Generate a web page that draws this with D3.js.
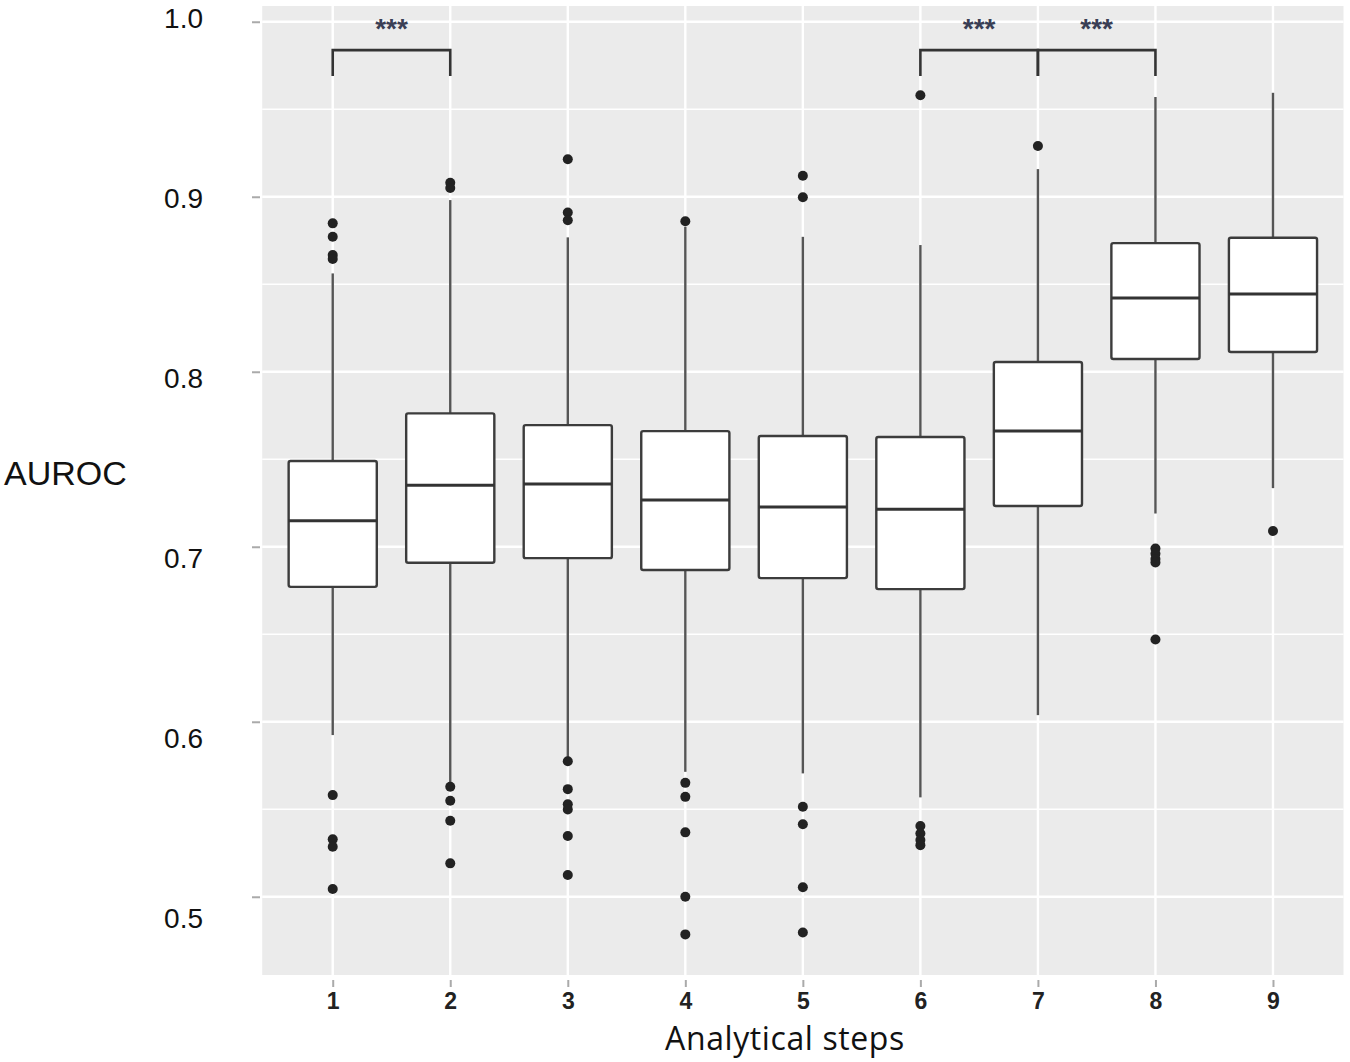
<!DOCTYPE html>
<html>
<head>
<meta charset="utf-8">
<script src="https://cdn.jsdelivr.net/npm/d3@7"></script>
<style>
  body { margin: 0; background: #fff; }
  svg { display: block; }
</style>
</head>
<body>
<div id="chart"></div>
<script>
// AUROC per analytical step
const steps = [1, 2, 3, 4, 5, 6, 7, 8, 9];
const whiskLo = [0.5924, 0.5638, 0.5781, 0.5714, 0.5705, 0.5568, 0.6038, 0.719, 0.7335];
const q1 = [0.6771, 0.6909, 0.6935, 0.6867, 0.6821, 0.6758, 0.7233, 0.8073, 0.8113];
const median = [0.7149, 0.7351, 0.7358, 0.7267, 0.7227, 0.7215, 0.7661, 0.8421, 0.8444];
const q3 = [0.749, 0.7762, 0.7695, 0.7661, 0.7633, 0.7627, 0.8056, 0.8735, 0.8766];
const whiskHi = [0.8562, 0.8981, 0.8768, 0.8829, 0.8771, 0.8724, 0.9158, 0.957, 0.9594];
const outliers = [
  [0.8848, 0.8771, 0.8667, 0.8645, 0.5581, 0.5328, 0.5286, 0.5044],
  [0.908, 0.905, 0.5629, 0.5549, 0.5434, 0.5191],
  [0.9214, 0.891, 0.8866, 0.5774, 0.5615, 0.5528, 0.5499, 0.5347, 0.5124],
  [0.886, 0.5651, 0.5571, 0.5368, 0.5, 0.4785],
  [0.912, 0.8997, 0.5514, 0.5414, 0.5054, 0.4796],
  [0.958, 0.5404, 0.5362, 0.5324, 0.5295],
  [0.929],
  [0.699, 0.696, 0.693, 0.691, 0.647],
  [0.709]
];
const yTicks = [0.5, 0.6, 0.7, 0.8, 0.9, 1.0];
const yMinor = [0.55, 0.65, 0.75, 0.85, 0.95];
// significance brackets: [from step, to step, label]
const brackets = [[1, 2, '***'], [6, 7, '***'], [7, 8, '***']];

const width = 1350, height = 1062;
const panel = { left: 262.2, right: 1343.5, top: 6, bottom: 975 };

const svg = d3.select('#chart').append('svg')
  .attr('width', width)
  .attr('height', height);

const x = d3.scaleLinear()
  .domain([0.4, 9.6])
  .range([panel.left, panel.right]);

const y = d3.scaleLinear()
  .domain([0.4553, 1.009])
  .range([panel.bottom, panel.top]);

// the tick labels sit slightly off the grid in the original figure
const yLabel = d3.scaleLinear()
  .domain([0.5, 1.0])
  .range([918, 18]);

const boxW = x(1.75) - x(1);

svg.append('rect')
  .attr('x', panel.left)
  .attr('y', panel.top)
  .attr('width', panel.right - panel.left)
  .attr('height', panel.bottom - panel.top)
  .style('fill', '#ebebeb');

// grid
svg.append('g').selectAll('line')
  .data(yMinor)
  .enter().append('line')
  .attr('x1', panel.left).attr('x2', panel.right)
  .attr('y1', d => y(d)).attr('y2', d => y(d))
  .style('stroke', '#fff').style('stroke-width', 1.6);

svg.append('g').selectAll('line')
  .data(yTicks)
  .enter().append('line')
  .attr('x1', panel.left).attr('x2', panel.right)
  .attr('y1', d => y(d)).attr('y2', d => y(d))
  .style('stroke', '#fff').style('stroke-width', 2.4);

svg.append('g').selectAll('line')
  .data(steps)
  .enter().append('line')
  .attr('x1', d => x(d)).attr('x2', d => x(d))
  .attr('y1', panel.top).attr('y2', panel.bottom)
  .style('stroke', '#fff').style('stroke-width', 2.4);

// axes
const yAxis = d3.axisLeft(y)
  .tickValues(yTicks)
  .tickSize(8)
  .tickPadding(49)
  .tickFormat(d3.format('.1f'));

const gy = svg.append('g')
  .attr('transform', 'translate(260,0)')
  .call(yAxis);
gy.select('.domain').remove();
gy.selectAll('.tick line').style('stroke', '#aaa').style('stroke-width', 2);
gy.selectAll('.tick text')
  .attr('y', d => yLabel(d) - y(d))
  .attr('dy', '0.35em')
  .style('font-family', '"Liberation Sans", Arial, sans-serif')
  .style('font-size', '28px')
  .style('fill', '#111');

const xAxis = d3.axisBottom(x)
  .tickValues(steps)
  .tickSize(7)
  .tickPadding(6)
  .tickFormat(d3.format('d'));

const gx = svg.append('g')
  .attr('transform', 'translate(0,980)')
  .call(xAxis);
gx.select('.domain').remove();
gx.selectAll('.tick line').style('stroke', '#aaa').style('stroke-width', 2);
gx.selectAll('.tick text')
  .style('font-family', '"Liberation Sans", Arial, sans-serif')
  .style('font-weight', 'bold')
  .style('font-size', '23px')
  .style('fill', '#222');

svg.append('text')
  .attr('x', 785)
  .attr('y', 1050)
  .attr('text-anchor', 'middle')
  .style('font-family', '"Open Sans", sans-serif')
  .style('font-size', '32px')
  .style('letter-spacing', '0.6px')
  .style('fill', '#111')
  .text('Analytical steps');

svg.append('text')
  .attr('x', 4)
  .attr('y', 485)
  .style('font-family', '"Liberation Sans", Arial, sans-serif')
  .style('font-size', '34px')
  .style('fill', '#111')
  .text('AUROC');

// boxes
const boxes = steps.map((s, i) => ({
  step: s, lo: whiskLo[i], q1: q1[i], med: median[i], q3: q3[i], hi: whiskHi[i], out: outliers[i]
}));

const box = svg.append('g').selectAll('g')
  .data(boxes)
  .enter().append('g');

box.append('line')
  .attr('x1', d => x(d.step)).attr('x2', d => x(d.step))
  .attr('y1', d => y(d.hi)).attr('y2', d => y(d.q3))
  .style('stroke', '#555').style('stroke-width', 2.4);

box.append('line')
  .attr('x1', d => x(d.step)).attr('x2', d => x(d.step))
  .attr('y1', d => y(d.q1)).attr('y2', d => y(d.lo))
  .style('stroke', '#555').style('stroke-width', 2.4);

box.append('rect')
  .attr('x', d => x(d.step) - boxW / 2)
  .attr('y', d => y(d.q3))
  .attr('width', boxW)
  .attr('height', d => y(d.q1) - y(d.q3))
  .attr('rx', 2)
  .style('fill', '#fff')
  .style('stroke', '#3c3c3c')
  .style('stroke-width', 2.4);

box.append('line')
  .attr('x1', d => x(d.step) - boxW / 2).attr('x2', d => x(d.step) + boxW / 2)
  .attr('y1', d => y(d.med)).attr('y2', d => y(d.med))
  .style('stroke', '#333').style('stroke-width', 3);

box.selectAll('circle')
  .data(d => d.out.map(v => ({ step: d.step, v: v })))
  .enter().append('circle')
  .attr('cx', d => x(d.step))
  .attr('cy', d => y(d.v))
  .attr('r', 5)
  .style('fill', '#222');

// significance brackets
const barY = y(0.9838), legY = y(0.969), starY = y(0.9905);

const br = svg.append('g').selectAll('g')
  .data(brackets)
  .enter().append('g');

br.append('path')
  .attr('d', d => 'M' + x(d[0]) + ',' + legY + 'V' + barY + 'H' + x(d[1]) + 'V' + legY)
  .style('fill', 'none')
  .style('stroke', '#333')
  .style('stroke-width', 2.6);

br.append('text')
  .attr('x', d => (x(d[0]) + x(d[1])) / 2)
  .attr('y', starY)
  .attr('text-anchor', 'middle')
  .style('font-family', '"Liberation Sans", Arial, sans-serif')
  .style('font-weight', 'bold')
  .style('font-size', '28px')
  .style('fill', '#3a3f55')
  .text(d => d[2]);
</script>
</body>
</html>
